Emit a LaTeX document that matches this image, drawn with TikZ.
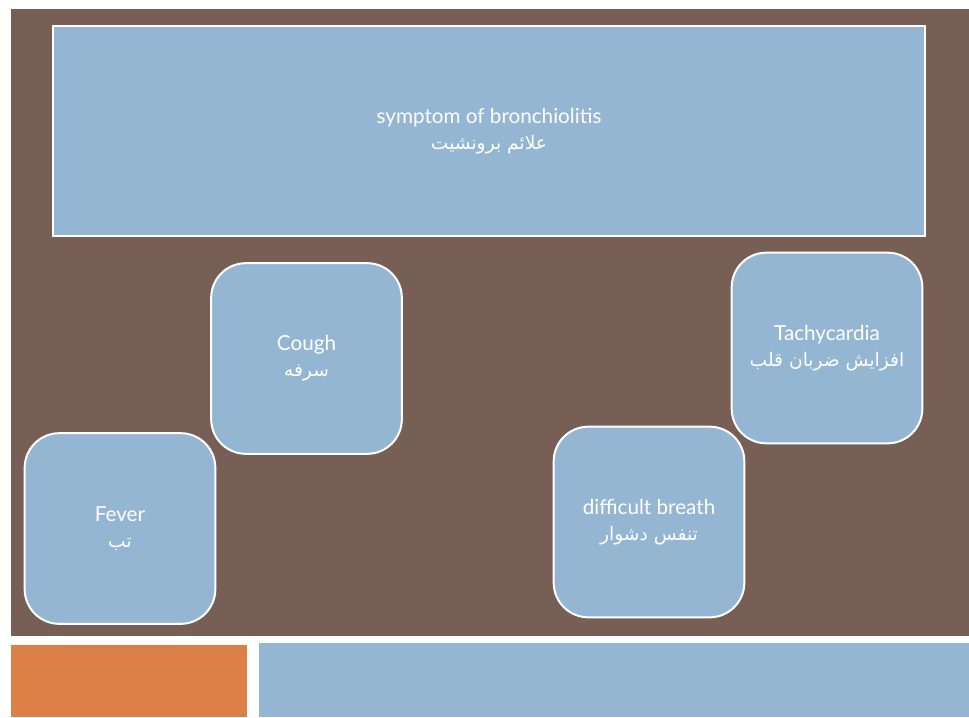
\documentclass[tikz,border=0pt]{standalone}
\usepackage{fontspec}
\setmainfont{Lato}
\newfontfamily\arabicfont[Script=Arabic]{DejaVu Sans}
\TeXXeTstate=1
\definecolor{slidebrown}{HTML}{775F55}
\definecolor{boxblue}{HTML}{94B6D2}
\definecolor{barorange}{HTML}{DD8047}
\tikzset{
  symbox/.style={draw=white, line width=1.5pt, fill=boxblue, rounded corners=26pt,
    minimum width=143pt, minimum height=143pt, text=white, align=center,
    font=\fontsize{15.5}{19.5}\selectfont},
  titlebox/.style={draw=white, line width=1.5pt, fill=boxblue,
    minimum width=654pt, minimum height=158pt, text=white, align=center,
    font=\fontsize{15.5}{19.5}\selectfont}
}
\newcommand{\fa}[1]{{\arabicfont\fontsize{14}{19.5}\selectfont\beginR #1\endR}}
\begin{document}
\begin{tikzpicture}[x=0.75pt, y=-0.75pt]
  \useasboundingbox (0,0) rectangle (969,717);
  \fill[white] (0,0) rectangle (969,717);
  \fill[slidebrown] (11,9) rectangle (969,636);
  \fill[barorange] (11,645) rectangle (247,717);
  \fill[boxblue] (259,643) rectangle (969,717);
  % title
  \node[titlebox] (title) at (489,131) {symptom of bronchiolitis\\\fa{علائم برونشیت}};
  % symptoms
  \node[symbox] (cough) at (306.5,358.5) {Cough\\\fa{سرفه}};
  \node[symbox] (fever) at (120,528.5) {Fever\\\fa{تب}};
  \node[symbox] (tachy) at (827,348) {Tachycardia\\\fa{افزایش ضربان قلب}};
  \node[symbox] (breath) at (649,522) {difficult breath\\\fa{تنفس دشوار}};
\end{tikzpicture}
\end{document}
